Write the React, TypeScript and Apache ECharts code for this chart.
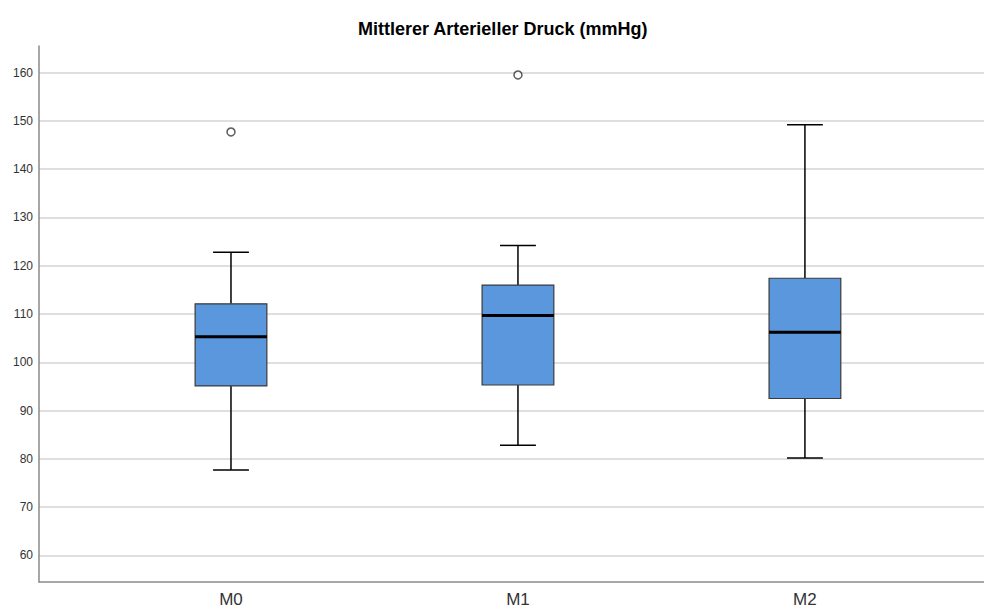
import React, { useEffect, useRef } from "react";
import * as echarts from "echarts";

// Groups along the x axis
const CATEGORIES = ["M0", "M1", "M2"];

// Box plot statistics per group (mmHg)
const WHISKER_LOW = [77.7, 82.8, 80.2];
const Q1 = [95.1, 95.3, 92.5];
const MEDIAN = [105.3, 109.7, 106.2];
const Q3 = [112.1, 116.0, 117.4];
const WHISKER_HIGH = [122.8, 124.2, 149.2];

// Outliers: [group index, value]
const OUTLIERS: [number, number][] = [
  [0, 147.7],
  [1, 159.5],
];

// Y tick labels
const Y_TICKS = [60, 70, 80, 90, 100, 110, 120, 130, 140, 150, 160];

const FONT = '"Liberation Sans", Arial, sans-serif';

export default function App() {
  const ref = useRef<HTMLDivElement>(null);

  useEffect(() => {
    if (!ref.current) return;
    const chart = echarts.init(ref.current, null, { renderer: "svg" });

    const boxData = CATEGORIES.map((_, i) => [
      i,
      WHISKER_LOW[i],
      Q1[i],
      MEDIAN[i],
      Q3[i],
      WHISKER_HIGH[i],
    ]);

    const renderBox = (params: any, api: any) => {
      const i = api.value(0);
      const lo = api.coord([i, api.value(1)]);
      const q1 = api.coord([i, api.value(2)]);
      const med = api.coord([i, api.value(3)]);
      const q3 = api.coord([i, api.value(4)]);
      const hi = api.coord([i, api.value(5)]);
      const unit = api.size([1, 0])[0];
      const boxW = unit * 0.25;
      const capW = boxW * 0.5;
      const cx = lo[0];
      const whisker = { stroke: "#000", lineWidth: 1.5 };
      return {
        type: "group",
        children: [
          { type: "line", shape: { x1: cx, y1: hi[1], x2: cx, y2: q3[1] }, style: whisker },
          { type: "line", shape: { x1: cx, y1: q1[1], x2: cx, y2: lo[1] }, style: whisker },
          { type: "line", shape: { x1: cx - capW / 2, y1: hi[1], x2: cx + capW / 2, y2: hi[1] }, style: whisker },
          { type: "line", shape: { x1: cx - capW / 2, y1: lo[1], x2: cx + capW / 2, y2: lo[1] }, style: whisker },
          {
            type: "rect",
            shape: { x: cx - boxW / 2, y: q3[1], width: boxW, height: q1[1] - q3[1] },
            style: { fill: "#5b97dc", stroke: "#3a3a3a", lineWidth: 1.2 },
          },
          {
            type: "line",
            shape: { x1: cx - boxW / 2, y1: med[1], x2: cx + boxW / 2, y2: med[1] },
            style: { stroke: "#000", lineWidth: 3 },
          },
        ],
      };
    };

    chart.setOption({
      animation: false,
      backgroundColor: "#ffffff",
      textStyle: { fontFamily: FONT },
      title: {
        text: "Mittlerer Arterieller Druck (mmHg)",
        left: 353,
        top: 15,
        textStyle: { fontFamily: FONT, fontSize: 18, fontWeight: "bold", color: "#000" },
      },
      grid: { left: 39, right: 0, top: 46, bottom: 26, containLabel: false },
      xAxis: {
        type: "value",
        min: -0.669,
        max: 2.624,
        splitLine: { show: false },
        axisTick: { show: false },
        axisLine: { show: true, onZero: false, lineStyle: { color: "#8a8a8a", width: 1.5 } },
        axisLabel: {
          customValues: [0, 1, 2],
          formatter: (v: number) => CATEGORIES[Math.round(v)] ?? "",
          fontSize: 17,
          color: "#333",
          margin: 9,
          fontFamily: FONT,
        },
      },
      yAxis: {
        type: "value",
        min: 54.5,
        max: 165.5,
        splitNumber: 11,
        axisTick: { show: false },
        axisLine: { show: true, onZero: false, lineStyle: { color: "#8a8a8a", width: 1.5 } },
        splitLine: {
          show: true,
          showMinLine: false,
          showMaxLine: false,
          lineStyle: { color: "#d4d4d4", width: 1.5 },
        },
        axisLabel: {
          customValues: Y_TICKS,
          fontSize: 12,
          color: "#333",
          margin: 6,
          fontFamily: FONT,
        },
      },
      series: [
        {
          type: "custom",
          renderItem: renderBox,
          encode: { x: 0, y: [1, 2, 3, 4, 5] },
          data: boxData,
          clip: false,
        },
        {
          type: "scatter",
          data: OUTLIERS,
          symbol: "circle",
          symbolSize: 8,
          itemStyle: { color: "#ffffff", borderColor: "#333", borderWidth: 1.5 },
        },
      ],
    });

    return () => chart.dispose();
  }, []);

  return (
    <div
      ref={ref}
      style={{ position: "fixed", left: 0, top: 0, width: 984, height: 608 }}
    />
  );
}
